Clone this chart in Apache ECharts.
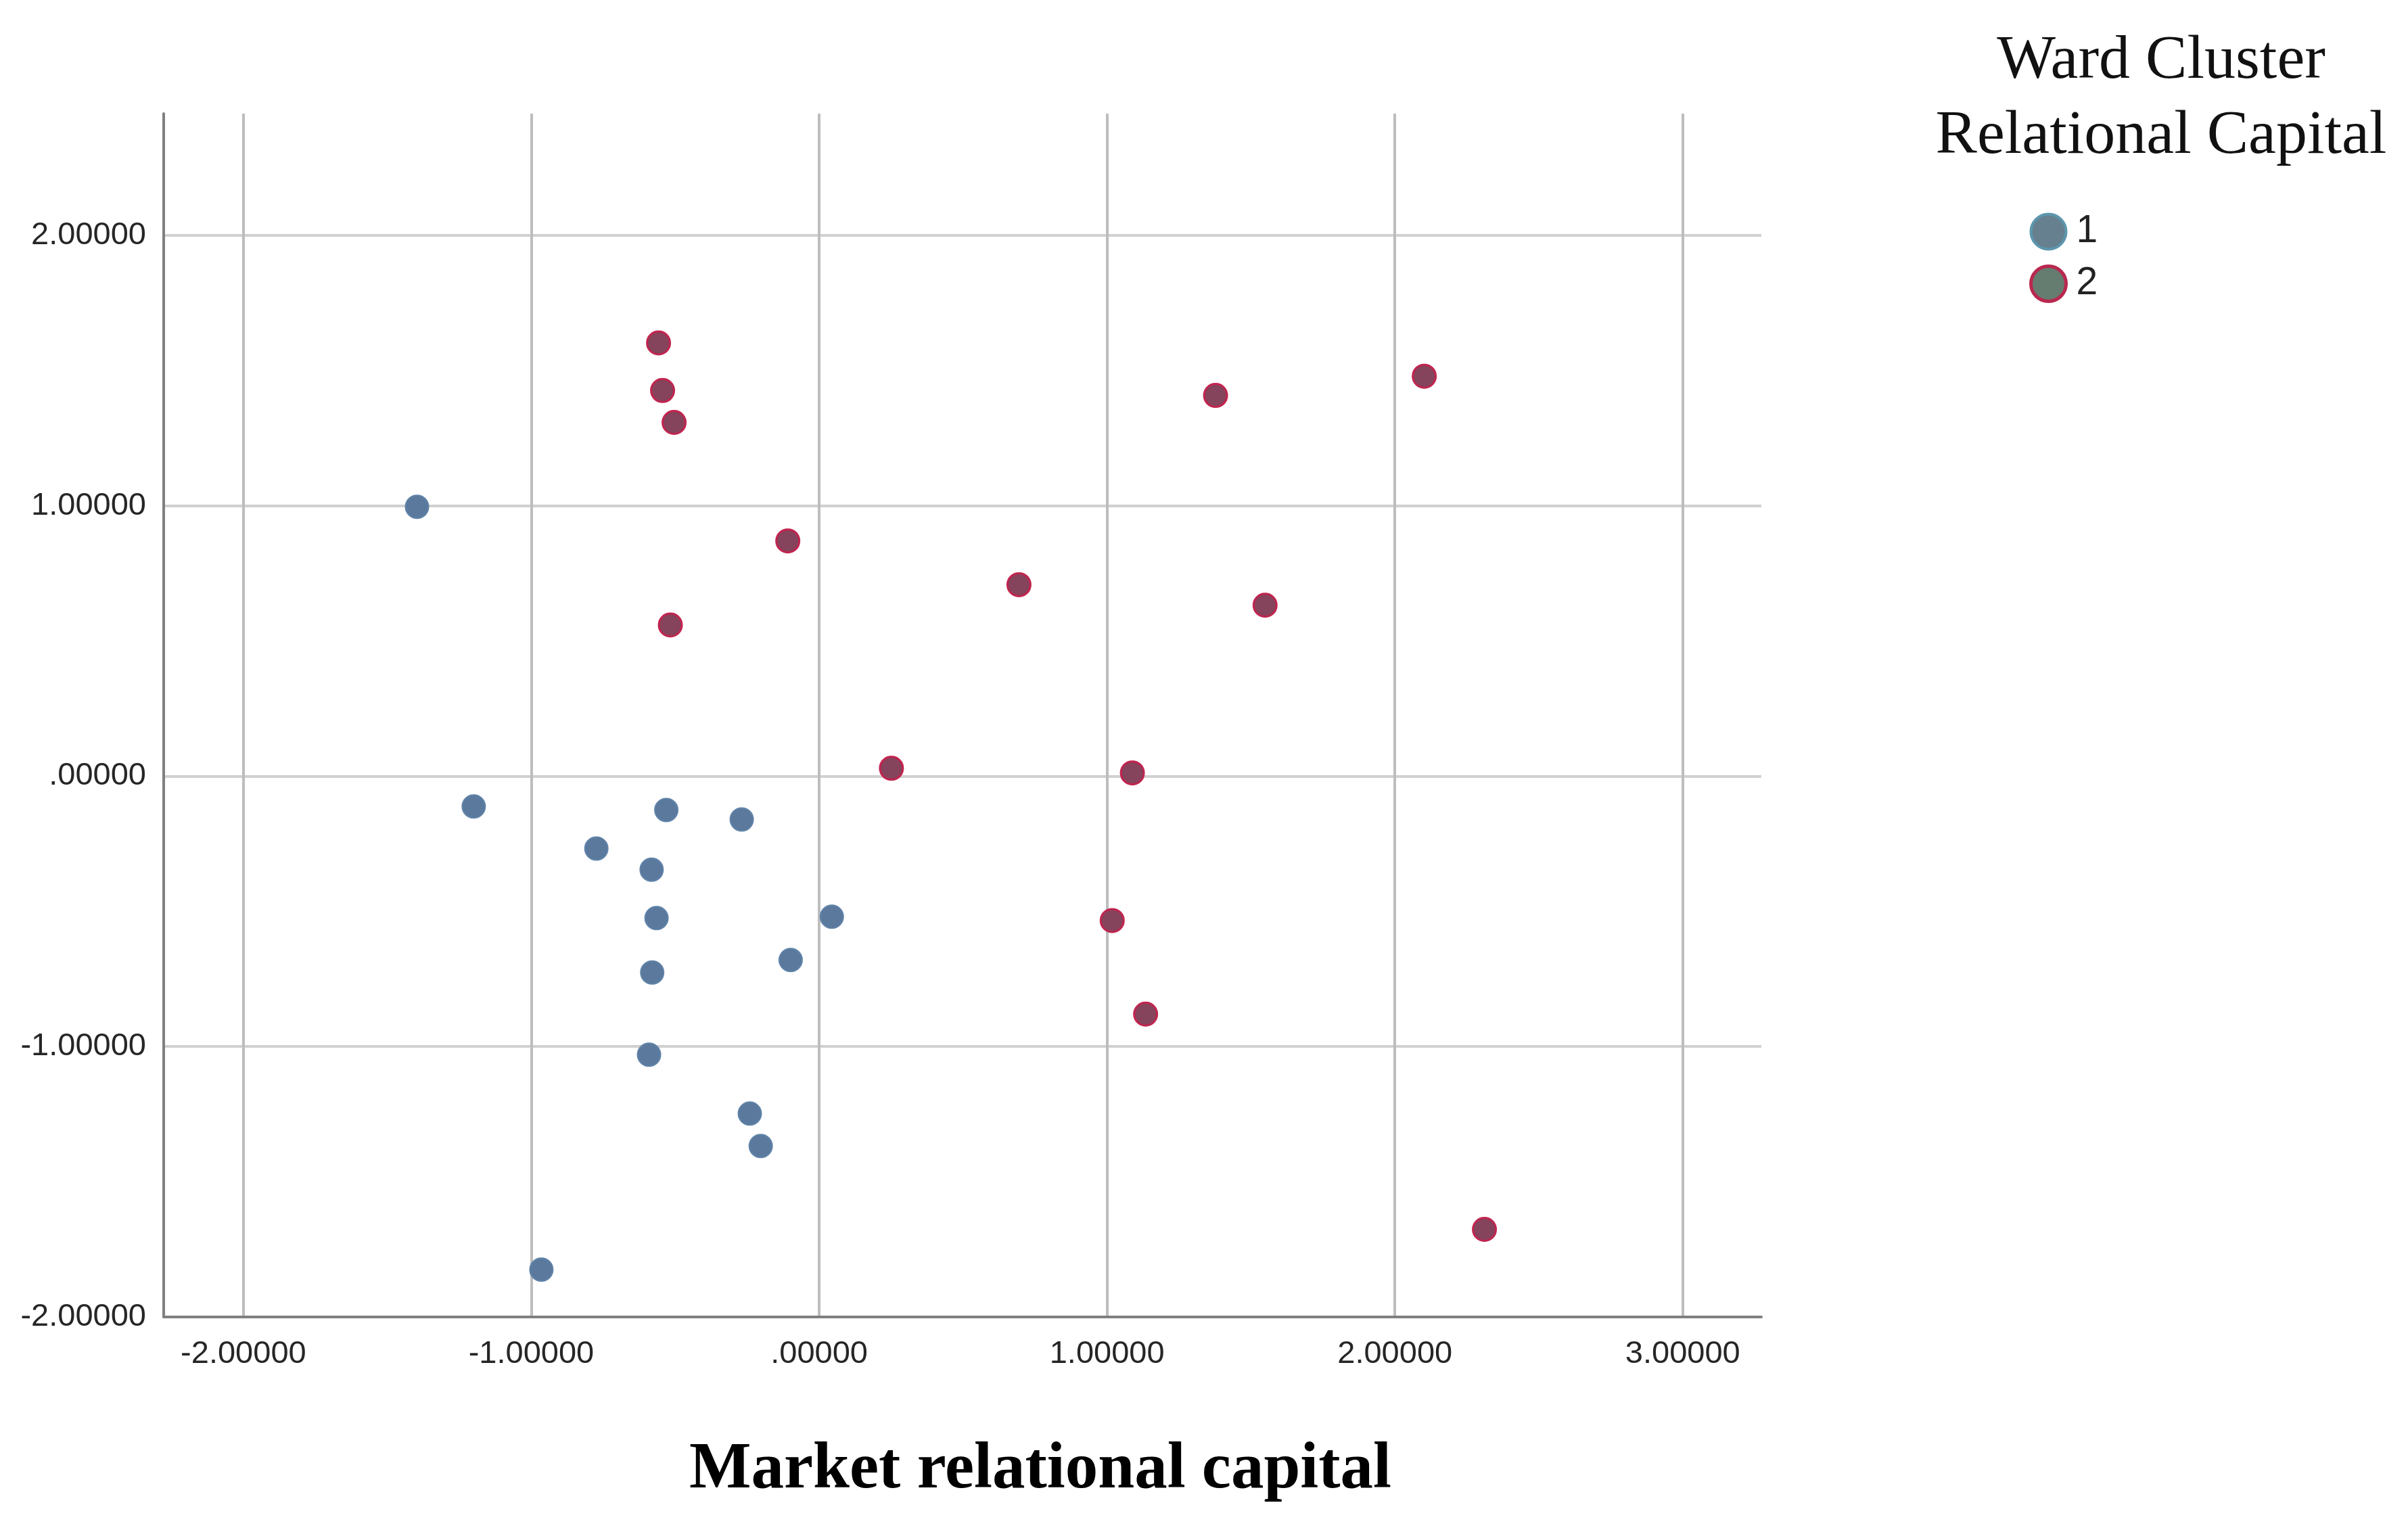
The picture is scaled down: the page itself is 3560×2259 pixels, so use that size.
<!DOCTYPE html>
<html>
<head>
<meta charset="utf-8">
<script src="https://cdn.jsdelivr.net/npm/echarts@6/dist/echarts.min.js"></script>
<style>
html,body{margin:0;padding:0;background:#fff;}
#chart{width:3560px;height:2259px;}
</style>
</head>
<body>
<div id="chart"></div>
<script>
// ---- data ----
const cluster1X = [-1.397, -1.200, -0.531, -0.269, -0.774, -0.582, -0.565, 0.044, -0.099, -0.580, -0.591, -0.241, -0.203, -0.965];
const cluster1Y = [0.996, -0.112, -0.125, -0.160, -0.268, -0.346, -0.525, -0.520, -0.680, -0.726, -1.030, -1.248, -1.368, -1.825];
const cluster2X = [-0.558, -0.544, -0.504, -0.109, -0.517, 0.251, 1.377, 2.102, 0.694, 1.549, 1.088, 1.018, 1.134, 2.311];
const cluster2Y = [1.602, 1.426, 1.308, 0.870, 0.559, 0.029, 1.408, 1.479, 0.708, 0.632, 0.012, -0.534, -0.880, -1.676];
const clusterNames = ['1', '2'];
const xTicks = [-2, -1, 0, 1, 2, 3];
const yTicks = [-2, -1, 0, 1, 2];
const xRange = [-2.277, 3.273];
const yRange = [-2, 2.45];
const xTitle = 'Market relational capital';
const legendTitle = 'Ward Cluster\nRelational Capital';

function fmt(v) {
  if (Math.abs(v) < 1e-9) return '.00000';
  return v.toFixed(5);
}
function pairs(xs, ys) { return xs.map((x, i) => [x, ys[i]]); }

const chart = echarts.init(document.getElementById('chart'), null, {renderer: 'canvas'});
const tickFont = {fontFamily: 'Liberation Sans, Arial, sans-serif', fontSize: 47, color: '#262626'};

chart.setOption({
  backgroundColor: '#ffffff',
  animation: false,
  title: [{
    text: legendTitle,
    left: 3190,
    top: 30,
    textAlign: 'center',
    textStyle: {fontFamily: 'Liberation Serif, Times New Roman, serif', fontWeight: 'normal', fontSize: 92, lineHeight: 111, color: '#111'}
  }],
  legend: {
    orient: 'vertical',
    left: 2995,
    top: 309,
    itemWidth: 52,
    itemHeight: 52,
    itemGap: 20,
    icon: 'circle',
    textStyle: {fontFamily: 'Liberation Sans, Arial, sans-serif', fontSize: 57, color: '#222', padding: [0, 0, 0, 10]},
    data: [
      {name: clusterNames[0], itemStyle: {color: '#66808f', borderColor: '#5c96ad', borderWidth: 4}},
      {name: clusterNames[1], itemStyle: {color: '#657c70', borderColor: '#b9284f', borderWidth: 5}}
    ]
  },
  grid: {left: 242, right: 956, top: 168, bottom: 312, containLabel: false},
  xAxis: {
    type: 'value',
    min: xRange[0],
    max: xRange[1],
    name: xTitle,
    nameLocation: 'middle',
    nameGap: 178,
    nameTextStyle: {fontFamily: 'Liberation Serif, Times New Roman, serif', fontWeight: 'bold', fontSize: 97, color: '#000', padding: [0, 0, 0, 230]},
    axisLine: {show: true, onZero: false, lineStyle: {color: '#808080', width: 4}},
    axisTick: {show: false, customValues: xTicks},
    axisLabel: Object.assign({customValues: xTicks, margin: 32, formatter: fmt}, tickFont),
    splitLine: {show: true, lineStyle: {color: '#bdbdbd', width: 4}}
  },
  yAxis: {
    type: 'value',
    min: yRange[0],
    max: yRange[1],
    axisLine: {show: true, onZero: false, lineStyle: {color: '#808080', width: 4}},
    axisTick: {show: false, customValues: yTicks},
    axisLabel: Object.assign({customValues: yTicks, margin: 26, formatter: fmt}, tickFont),
    splitLine: {show: true, lineStyle: {color: '#d0d0d0', width: 4}}
  },
  series: [
    {
      name: clusterNames[0],
      type: 'scatter',
      symbol: 'circle',
      symbolSize: 34,
      data: pairs(cluster1X, cluster1Y),
      itemStyle: {color: '#5a799c', borderColor: '#6184aa', borderWidth: 2, opacity: 1}
    },
    {
      name: clusterNames[1],
      type: 'scatter',
      symbol: 'circle',
      symbolSize: 34,
      data: pairs(cluster2X, cluster2Y),
      itemStyle: {color: '#85435c', borderColor: '#c2244f', borderWidth: 3, opacity: 1}
    }
  ]
});
</script>
</body>
</html>
